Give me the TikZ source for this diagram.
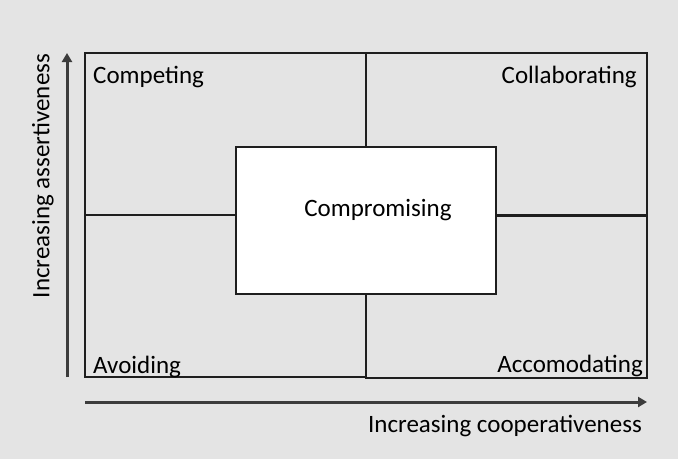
\documentclass[tikz,border=0pt]{standalone}
\usepackage{fontspec}
\setmainfont{Carlito}
\usetikzlibrary{arrows.meta}

\definecolor{bggray}{HTML}{E4E4E4}
\definecolor{linegray}{HTML}{1E1E1E}

\tikzset{
	box/.style = {draw=linegray, line width=1.4pt},
	axis/.style = {draw=linegray!85!bggray, line width=3pt, -{Triangle[length=9pt,width=10pt]}},
	label/.style = {font=\fontsize{25}{30}\selectfont, inner sep=0pt}
}

\begin{document}
\begin{tikzpicture}[x=1pt, y=-1pt]
		\fill[bggray] (0,0) rectangle (678,459);
		\useasboundingbox (0,0) rectangle (678,459);
		
		% quadrants
		\draw[box] (85,53) rectangle (366,377);
		\draw[box] (366,53) rectangle (647,378);
		\draw[box] (85,215) -- (236,215);
		\draw[box, line width=3pt] (496,215) -- (647,215);
		
		% middle box
		\draw[box, fill=white] (236,147) rectangle (496,294);
		\node[label] (compromising) at (378,210) {Compromising};
		
		\node[label, anchor=base west] (competing) at (93,83) {Competing};
		\node[label, anchor=base east] (collaborating) at (637,83) {Collaborating};
		\node[label, anchor=base west] (avoiding) at (93,373) {Avoiding};
		\node[label, anchor=base east] (accomodating) at (643,372) {Accomodating};
		
		% axes
		\coordinate (ylow) at (67,377);
		\coordinate (yhigh) at (67,53);
		\coordinate (xlow) at (85,402);
		\coordinate (xhigh) at (647,402);
		\draw[axis] (ylow) -- (yhigh);
		\draw[axis] (xlow) -- (xhigh);
		
		\node[label, rotate=90] (assert) at (43,176) {Increasing assertiveness};
		\node[label, anchor=base east] (coop) at (642,432) {Increasing cooperativeness};
\end{tikzpicture}
\end{document}
